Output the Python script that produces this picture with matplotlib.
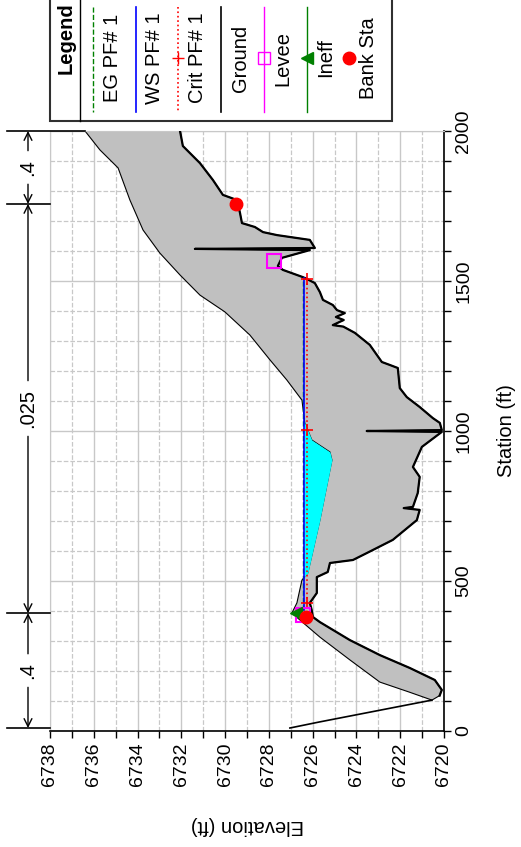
import numpy as np
import matplotlib.pyplot as plt
import matplotlib.transforms as mtransforms
from matplotlib.lines import Line2D
from matplotlib.patches import Rectangle
from matplotlib.ticker import MultipleLocator

plt.rcParams['font.family'] = ['Liberation Sans', 'DejaVu Sans']

# ground line (right/lower edge of the shaded area), station ft / elevation ft
ground_sta = [2000, 1950, 1893, 1837, 1787, 1770, 1727, 1693, 1680, 1663, 1653, 1637,
              1610, 1607, 1603, 1577, 1550, 1537, 1513, 1507, 1493, 1463, 1437, 1420,
              1403, 1393, 1380, 1370, 1353, 1348, 1327, 1287, 1230, 1220, 1210, 1143,
              1113, 1080, 1043, 1027, 1003, 1000, 997, 947, 880, 847, 793, 747, 743,
              737, 703, 637, 593, 570, 560, 530, 513, 460, 427, 405, 380, 363, 303,
              253, 210, 170, 137, 118]
ground_elev = [6732.06, 6731.93, 6731.15, 6730.56, 6730.10, 6729.46, 6729.32, 6729.23,
               6728.64, 6728.27, 6727.63, 6726.13, 6725.90, 6731.38, 6726.13, 6727.41,
               6727.59, 6727.36, 6726.45, 6726.27, 6725.90, 6725.67, 6725.53, 6725.08,
               6724.89, 6724.53, 6724.94, 6724.58, 6725.08, 6724.60, 6724.07, 6723.39,
               6722.84, 6722.47, 6722.11, 6722.02, 6721.70, 6721.11, 6720.51, 6720.19,
               6720.10, 6723.53, 6720.10, 6721.01, 6721.42, 6721.11, 6721.20, 6721.42,
               6721.84, 6721.11, 6721.24, 6722.34, 6723.53, 6724.16, 6725.21, 6725.31,
               6725.81, 6725.81, 6726.13, 6726.05, 6725.99, 6725.67, 6724.30, 6722.93,
               6721.56, 6720.42, 6720.10, 6720.20]
# upper edge of the shaded area, from the low station end back up to 2000
upper_sta = [103, 130, 163, 237, 313, 393, 427, 503, 527, 703, 903, 930, 970, 1010,
             1027, 1103, 1170, 1237, 1320, 1397, 1453, 1520, 1593, 1670, 1770, 1877,
             1937, 2000]
upper_elev = [6720.55, 6721.60, 6722.93, 6724.30, 6725.67, 6726.95, 6726.72, 6726.49,
              6726.22, 6725.67, 6725.12, 6725.21, 6726.04, 6726.26, 6726.36, 6726.49,
              6727.18, 6727.95, 6728.87, 6730.01, 6731.15, 6732.06, 6732.98, 6733.75,
              6734.35, 6734.89, 6735.72, 6736.40]
# ground stub at the start of the section
stub_sta = [10, 30, 103]
stub_elev = [6727.04, 6725.70, 6720.55]

ws_sta = [403, 1510]
ws_elev = 6726.39
eg_elev = 6726.45
crit_sta = [427, 1003, 1507]
crit_elev = 6726.28

levee_sta = [387, 1567]
levee_elev = [6726.45, 6727.77]
ineff_sta = [393]
ineff_elev = [6726.77]
bank_sta = [380, 1757]
bank_elev = [6726.31, 6729.51]

n_bounds = [10, 393, 1757, 2000]
n_values = ['.4', '.025', '.4']

legend_names = ['EG PF# 1', 'WS PF# 1', 'Crit PF# 1', 'Ground', 'Levee', 'Ineff', 'Bank Sta']

W, H = 521, 847
fig = plt.figure(figsize=(W / 100, H / 100), dpi=100)
ax = fig.add_axes([50 / W, (H - 731) / H, 394 / W, 600 / H])


def fx(px):
    return px / W


def fy(py):
    return 1 - py / H


# shaded ground band
poly_sta = ground_sta + upper_sta
poly_elev = ground_elev + upper_elev
ax.fill(poly_elev, poly_sta, facecolor='#c0c0c0', edgecolor='black', lw=0.8, zorder=2)
ax.plot(ground_elev, ground_sta, color='black', lw=1.6, zorder=3)
ax.plot(stub_elev, stub_sta, color='black', lw=1.2, zorder=3)

# water
us = np.array(upper_sta)
ue = np.array(upper_elev)
ax.fill_betweenx(us, ue, ws_elev, where=(ue < ws_elev) & (us > 420) & (us < 1500),
                 interpolate=True, color='#00ffff', lw=0, zorder=2)
ax.plot([eg_elev] * 2, ws_sta, color='#008000', ls='--', lw=1, zorder=4)
ax.plot([ws_elev] * 2, ws_sta, color='#0000ff', lw=1.2, zorder=4)
ax.plot([crit_elev] * len(crit_sta), crit_sta, color='#ff0000', ls=':', lw=1.2,
        marker='+', ms=9, mew=1.2, zorder=4)

ax.plot(levee_elev, levee_sta, ls='none', marker='s', ms=10, mfc='none', mec='#ff00ff',
        mew=1.5, zorder=5)
ax.plot(ineff_elev, ineff_sta, ls='none', marker='<', ms=8, color='#008000', zorder=5)
ax.plot(bank_elev, bank_sta, ls='none', marker='o', ms=9, color='#ff0000', zorder=6)

ax.set_xlim(6738, 6720)
ax.set_ylim(0, 2000)
ax.xaxis.set_major_locator(MultipleLocator(2))
ax.xaxis.set_minor_locator(MultipleLocator(1))
ax.yaxis.set_major_locator(MultipleLocator(500))
ax.yaxis.set_minor_locator(MultipleLocator(100))
ax.yaxis.tick_right()
ax.yaxis.set_label_position('right')
ax.tick_params(axis='both', which='both', direction='out', length=5, width=1, labelsize=14)
ax.tick_params(axis='x', labelrotation=90, pad=3)
ax.tick_params(axis='y', labelrotation=90, pad=3)
for t in ax.get_yticklabels():
    t.set_va('center')

ax.set_xlabel('Elevation (ft)', fontsize=14.5, rotation=180, labelpad=22)
ax.set_ylabel('Station (ft)', fontsize=14.5, rotation=90, labelpad=18)

ax.grid(which='major', color='#c8c8c8', lw=1, ls='-')
ax.grid(which='minor', color='#c8c8c8', lw=0.9, ls='--')
ax.set_axisbelow(True)
for side in ['top', 'left']:
    ax.spines[side].set_color('#c8c8c8')
for side in ['right', 'bottom']:
    ax.spines[side].set_linewidth(1.2)

# Manning's n annotation along the left edge
trans = mtransforms.blended_transform_factory(ax.transAxes, ax.transData)
xl = (28 - 50) / 394
for b in n_bounds:
    x_end = 0.09 if b == n_bounds[-1] else 0
    ax.plot([(7 - 50) / 394, x_end], [b, b], color='black', lw=1.2, transform=trans,
            clip_on=False, zorder=3)
for i, lab in enumerate(n_values):
    b0, b1 = n_bounds[i], n_bounds[i + 1]
    mid = (b0 + b1) / 2
    for end, col in [(b1, 'black'), (b0, 'none')]:
        ax.annotate(lab, xy=(xl, end), xytext=(xl, mid), xycoords=trans, textcoords=trans,
                    rotation=90, ha='center', va='center', fontsize=14.5, color=col,
                    arrowprops=dict(arrowstyle='->', color='black', lw=1,
                                    shrinkA=4, shrinkB=0, mutation_scale=14),
                    annotation_clip=False)

# legend box along the top
fig.add_artist(Rectangle((fx(50), fy(121)), fx(342), 125 / H, transform=fig.transFigure,
                         facecolor='white', edgecolor='#303030', lw=1.5, zorder=10))
fig.add_artist(Line2D([fx(80)] * 2, [fy(0), fy(121)], transform=fig.transFigure,
                      color='black', lw=1, zorder=11))
fig.text(fx(66), fy(38), 'Legend', rotation=90, ha='center', va='center', fontsize=14.5,
         fontweight='bold', zorder=12)

styles = [dict(color='#008000', ls='--', lw=1),
          dict(color='#0000ff', ls='-', lw=1.2),
          dict(color='#ff0000', ls=':', lw=1.2, marker='+', ms=9, markevery=[1]),
          dict(color='black', ls='-', lw=1.2),
          dict(color='#ff00ff', ls='-', lw=1, marker='s', ms=9, mfc='none', markevery=[1]),
          dict(color='#008000', ls='-', lw=1, marker='<', ms=9, markevery=[1]),
          dict(color='#ff0000', ls='none', marker='o', ms=9, markevery=[1])]
for i, (name, st) in enumerate(zip(legend_names, styles)):
    x0 = 93 + i * 42.7
    fig.add_artist(Line2D([fx(x0)] * 3, [fy(7), fy(58), fy(112)], transform=fig.transFigure,
                          zorder=11, **st))
    fig.text(fx(x0 + 19), fy(58), name, rotation=90, ha='center', va='center',
             fontsize=14.5, zorder=12)

fig.savefig('out.png', dpi=100)
